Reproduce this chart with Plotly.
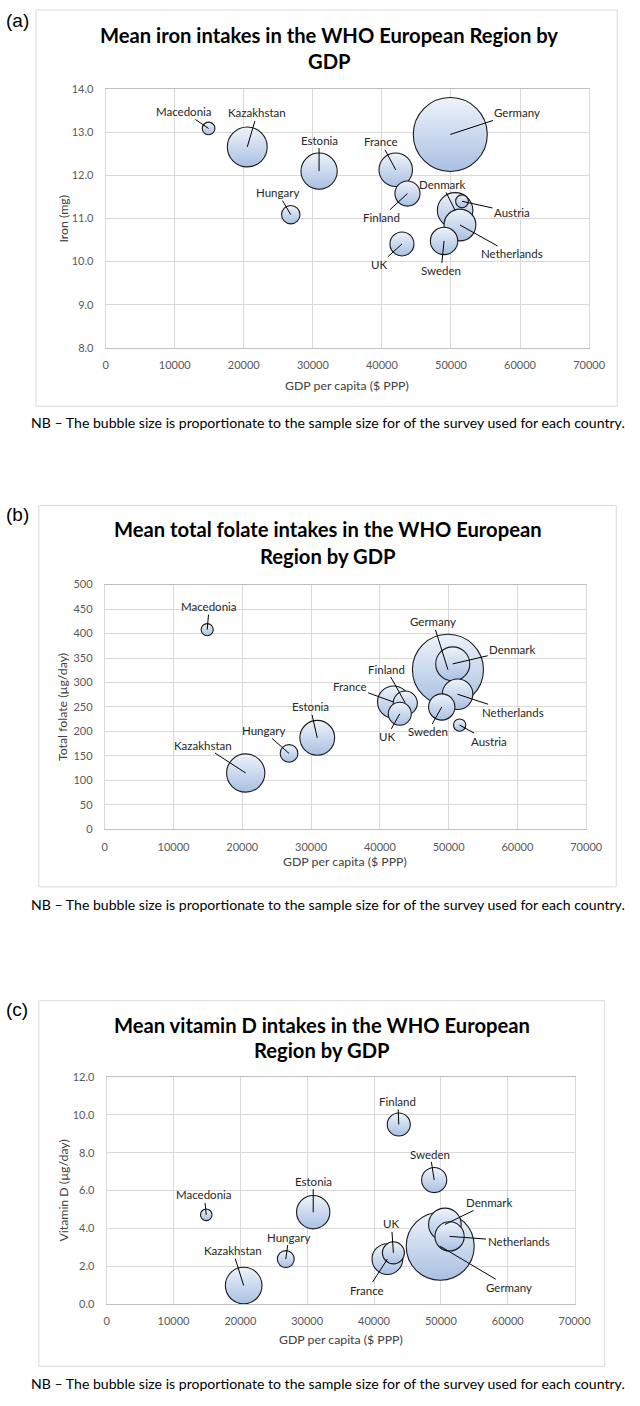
import numpy as np
import plotly.graph_objects as go

# ---------------- data ----------------
countries = ["Macedonia", "Kazakhstan", "Hungary", "Estonia", "France", "Finland",
             "UK", "Sweden", "Germany", "Denmark", "Netherlands", "Austria"]
gdp_ppp = [14900, 20500, 26800, 30900, 42000, 43700, 42900, 49000, 49900, 50600, 51300, 51600]
sample_size = [290, 2900, 620, 2400, 2050, 1150, 1050, 1370, 10000, 2300, 1850, 300]
iron_mg = [13.09, 12.66, 11.09, 12.10, 12.13, 11.58, 10.41, 10.48, 12.95, 11.19, 10.85, 11.40]
folate_ug = [408, 115, 155, 187, 260, 258, 236, 250, 326, 338, 276, 213]
vitd_ug = [4.71, 0.97, 2.37, 4.85, 2.37, 9.49, 2.70, 6.55, 3.05, 4.20, 3.57, None]

x_ticks = [0, 10000, 20000, 30000, 40000, 50000, 60000, 70000]
x_title = "GDP per capita ($ PPP)"
note = "NB \u2013 The bubble size is proportionate to the sample size for of the survey used for each country."

# ---------------- layout helpers (pixels) ----------------
W, H = 640, 1406
FONT = "Lato"


def px(x):
    return x / W


def py(y):
    return 1 - y / H


panels = [
    dict(letter="(a)", letter_y=14,
         title=["Mean iron intakes in the WHO European Region by", "GDP"],
         title_y=[28, 54], title_x=337,
         ytitle="Iron (mg)", yvals=iron_mg, yrange=[8, 14], dtick=1, fmt=".1f",
         plot=(106, 83, 605, 344), frame=(34, 3, 634, 403), xt_y=382, note_y=419,
         dmax=74,
         labels={"Macedonia": (-25, -17), "Kazakhstan": (10, -34), "Estonia": (0, -31),
                 "Hungary": (-13, -22), "France": (-15, -28), "Finland": (-26, 24),
                 "Germany": (67, -22), "Denmark": (-13, -26), "Austria": (50, 11),
                 "Netherlands": (52, 29), "UK": (-23, 21), "Sweden": (-3, 30)}),
    dict(letter="(b)", letter_y=512,
         title=["Mean total folate intakes in the WHO European", "Region by GDP"],
         title_y=[527, 554], title_x=335,
         ytitle="Total folate (\u00b5g/day)", yvals=folate_ug, yrange=[0, 500], dtick=50, fmt="d",
         plot=(105, 583, 602, 830), frame=(37, 503, 633, 888), xt_y=862, note_y=906,
         dmax=71,
         labels={"Macedonia": (2, -23), "Kazakhstan": (-43, -28), "Hungary": (-26, -23),
                 "Estonia": (-7, -31), "France": (-44, -16), "Finland": (-19, -34),
                 "UK": (-13, 23), "Sweden": (-14, 25), "Germany": (-15, -48),
                 "Denmark": (60, -14), "Netherlands": (55, 18), "Austria": (29, 16)}),
    dict(letter="(c)", letter_y=1012,
         title=["Mean vitamin D intakes in the WHO European", "Region by GDP"],
         title_y=[1027, 1053], title_x=329,
         ytitle="Vitamin D (\u00b5g/day)", yvals=vitd_ug, yrange=[0, 12], dtick=2, fmt=".1f",
         plot=(107, 1080, 590, 1309), frame=(37, 1003, 621, 1372), xt_y=1345, note_y=1389,
         dmax=68,
         labels={"Finland": (-1, -23), "Sweden": (-4, -26), "Macedonia": (-2, -20),
                 "Estonia": (0, -31), "Hungary": (3, -22), "Kazakhstan": (-11, -35),
                 "UK": (-2, -29), "France": (-20, 31), "Denmark": (45, -22),
                 "Netherlands": (69, 5), "Germany": (69, 41)}),
]

fig = go.Figure()
annotations = []
shapes = []
order = np.argsort(-np.array(sample_size))  # larger bubbles drawn first

for i, p in enumerate(panels):
    n = "" if i == 0 else str(i + 1)
    xa, ya = "x" + n, "y" + n
    idx = [k for k in order if p["yvals"][k] is not None]
    xs = [gdp_ppp[k] for k in idx]
    ys = [p["yvals"][k] for k in idx]
    ss = [sample_size[k] for k in idx]
    fig.add_trace(go.Scatter(
        x=xs, y=ys, mode="markers", xaxis=xa, yaxis=ya, showlegend=False,
        text=[countries[k] for k in idx], hoverinfo="text+x+y",
        marker=dict(size=ss, sizemode="area",
                    sizeref=2.0 * max(sample_size) / p["dmax"] ** 2,
                    color="#eef3fa",
                    gradient=dict(type="vertical", color="#a9c0e2"),
                    line=dict(width=1.1, color="#1a1a1a"), opacity=1)))

    x0, y0, x1, y1 = p["plot"]
    axis_common = dict(showgrid=True, gridcolor="#d9d9d9", gridwidth=1, zeroline=False,
                       showline=True, linecolor="#d9d9d9", mirror=True, ticks="",
                       tickfont=dict(family=FONT, size=11, color="#595959"))
    fig.layout["xaxis" + n] = dict(axis_common, domain=[px(x0), px(x1)], anchor=ya,
                                   range=[0, 70000], tickvals=x_ticks, tickformat="d",
                                   ticklabelstandoff=7)
    fig.layout["xaxis" + n].linecolor = "#bfbfbf"
    fig.layout["yaxis" + n] = dict(axis_common, domain=[py(y1), py(y0)], anchor=xa,
                                   range=p["yrange"], dtick=p["dtick"], tickformat=p["fmt"],
                                   ticklabelstandoff=9)

    # frame around each chart
    fx0, fy0, fx1, fy1 = p["frame"]
    shapes.append(dict(type="rect", xref="paper", yref="paper",
                       x0=px(fx0), x1=px(fx1), y0=py(fy1), y1=py(fy0),
                       line=dict(color="#d9d9d9", width=1), layer="below"))
    # panel letter
    annotations.append(dict(text=p["letter"], xref="paper", yref="paper", x=px(1), y=py(p["letter_y"]),
                            xanchor="left", yanchor="middle", showarrow=False,
                            font=dict(family="Liberation Sans", size=19, color="#000000")))
    # title
    for line, ty in zip(p["title"], p["title_y"]):
        annotations.append(dict(text="<b>" + line + "</b>", xref="paper", yref="paper",
                                x=px(p["title_x"]), y=py(ty), xanchor="center", yanchor="middle",
                                showarrow=False, font=dict(family=FONT, size=20.2, color="#000000")))
    # axis titles
    annotations.append(dict(text=x_title, xref="paper", yref="paper", x=px((x0 + x1) / 2),
                            y=py(p["xt_y"]), xanchor="center", yanchor="middle", showarrow=False,
                            font=dict(family=FONT, size=12.3, color="#404040")))
    annotations.append(dict(text=p["ytitle"], xref="paper", yref="paper", x=px(62),
                            y=py((y0 + y1) / 2), xanchor="center", yanchor="middle", textangle=-90,
                            showarrow=False, font=dict(family=FONT, size=12.3, color="#404040")))
    # note
    annotations.append(dict(text=note, xref="paper", yref="paper", x=px(335), y=py(p["note_y"]),
                            xanchor="center", yanchor="middle", showarrow=False,
                            font=dict(family=FONT, size=14.1, color="#000000")))
    # data labels with leader lines
    for k in idx:
        c = countries[k]
        dx, dy = p["labels"][c]
        annotations.append(dict(text=c, xref=xa, yref=ya, x=gdp_ppp[k], y=p["yvals"][k],
                                ax=dx, ay=dy, showarrow=True, arrowhead=0, arrowwidth=1,
                                arrowcolor="#000000", standoff=0,
                                font=dict(family=FONT, size=11.5, color="#262626")))

fig.update_layout(width=W, height=H, margin=dict(l=0, r=0, t=0, b=0),
                  paper_bgcolor="white", plot_bgcolor="white",
                  annotations=annotations, shapes=shapes,
                  font=dict(family=FONT))
fig.write_html("out.html", config={"displayModeBar": False},
               post_script="document.body.style.margin='0';document.body.style.overflow='hidden';")
